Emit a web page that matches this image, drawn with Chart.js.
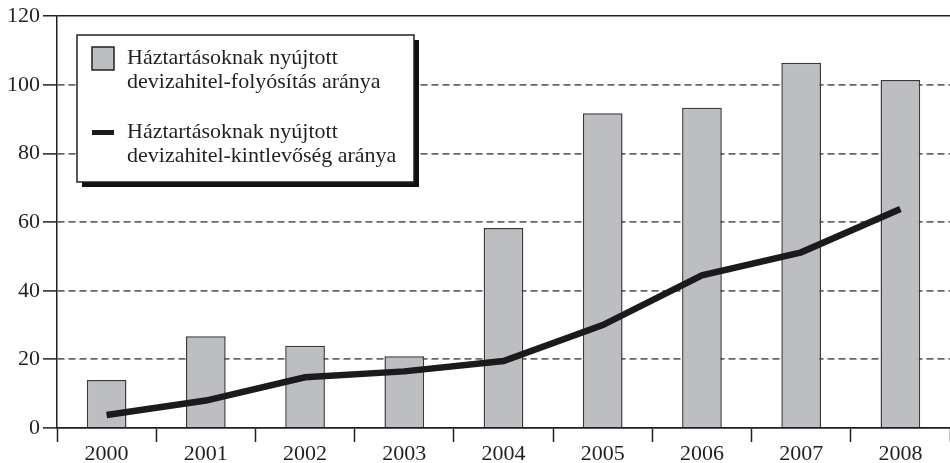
<!DOCTYPE html>
<html>
<head>
<meta charset="utf-8">
<script src="https://cdn.jsdelivr.net/npm/chart.js@4/dist/chart.umd.min.js"></script>
<style>
  html, body { margin: 0; padding: 0; background: #fff; }
  #wrap { width: 950px; height: 463px; }
</style>
</head>
<body>
<div id="wrap"><canvas id="devizaChart" width="950" height="463"></canvas></div>
<script>
const years = ['2000', '2001', '2002', '2003', '2004', '2005', '2006', '2007', '2008'];
const folyositas = [14, 26.7, 24, 20.9, 58.3, 91.7, 93.3, 106.4, 101.4];
const kintlevoseg = [3.8, 8, 14.8, 16.5, 19.5, 30, 44.5, 51.2, 63.8];
const folyositasLabel = ['Háztartásoknak nyújtott', 'devizahitel-folyósítás aránya'];
const kintlevosegLabel = ['Háztartásoknak nyújtott', 'devizahitel-kintlevőség aránya'];
const yTicks = [0, 20, 40, 60, 80, 100, 120];

const serif = '"Liberation Serif", "DejaVu Serif", serif';
const ink = '#231f20';

// legend in a shadowed box, drawn by hand
const boxLegend = {
    id: 'boxLegend',
    afterDraw(chart) {
        const ctx = chart.ctx;
        const x = 77, y = 35, w = 337, h = 147;
        ctx.save();
        ctx.fillStyle = '#111';
        ctx.fillRect(x + 5, y + 5, w, h);
        ctx.fillStyle = '#fff';
        ctx.fillRect(x, y, w, h);
        ctx.strokeStyle = ink;
        ctx.lineWidth = 1.5;
        ctx.strokeRect(x, y, w, h);

        const bar = chart.data.datasets[0];
        const line = chart.data.datasets[1];
        // bar swatch
        ctx.fillStyle = bar.backgroundColor;
        ctx.fillRect(92, 47, 22, 23);
        ctx.strokeRect(92, 47, 22, 23);
        // line swatch
        ctx.fillStyle = line.borderColor;
        ctx.fillRect(92, 130, 22, 5);

        ctx.fillStyle = ink;
        ctx.font = '22px ' + serif;
        ctx.textBaseline = 'alphabetic';
        ctx.fillText(bar.label[0], 127, 64);
        ctx.fillText(bar.label[1], 127, 88);
        ctx.fillText(line.label[0], 127, 138);
        ctx.fillText(line.label[1], 127, 162);
        ctx.restore();
    }
};

new Chart(document.getElementById('devizaChart'), {
    type: 'bar',
    data: {
        labels: years,
        datasets: [{
            type: 'bar',
            label: folyositasLabel,
            data: folyositas,
            backgroundColor: '#bdbec2',
            borderColor: '#3a3a3a',
            borderWidth: 1.5,
            categoryPercentage: 1,
            barPercentage: 0.4,
            order: 1
        }, {
            type: 'line',
            label: kintlevosegLabel,
            data: kintlevoseg,
            borderColor: '#1c1a1b',
            borderWidth: 6.5,
            pointRadius: 0,
            tension: 0,
            borderCapStyle: 'butt',
            order: 0
        }]
    },
    options: {
        responsive: false,
        animation: false,
        layout: { padding: { top: 0, right: 0, bottom: 0, left: 0 } },
        plugins: {
            legend: { display: false },
            tooltip: { enabled: false }
        },
        scales: {
            x: {
                offset: true,
                grid: {
                    offset: true,
                    drawOnChartArea: false,
                    drawTicks: true,
                    tickLength: 14,
                    tickColor: ink,
                    tickWidth: 1.5
                },
                border: { display: true, color: ink, width: 1.5 },
                ticks: {
                    color: ink,
                    font: { family: serif, size: 22 },
                    padding: -1,
                    maxRotation: 0
                },
                afterFit(scale) { scale.height = 35; }
            },
            y: {
                min: 0,
                max: 120,
                afterBuildTicks(scale) { scale.ticks = yTicks.map(v => ({ value: v })); },
                grid: {
                    color: (c) => (c.tick && (c.tick.value === 120)) ? ink : '#666',
                    lineWidth: (c) => (c.tick && c.tick.value === 120) ? 1.5 : 1.8,
                    tickLength: 14,
                    tickColor: ink,
                    tickWidth: 1.5
                },
                border: {
                    display: true,
                    color: ink,
                    width: 1.5,
                    dash: (c) => (c.tick && (c.tick.value === 0 || c.tick.value === 120)) ? [] : [7, 4]
                },
                ticks: {
                    color: ink,
                    font: { family: serif, size: 22 },
                    padding: 3
                },
                afterFit(scale) { scale.width = 57; }
            }
        }
    },
    plugins: [boxLegend]
});
</script>
</body>
</html>
